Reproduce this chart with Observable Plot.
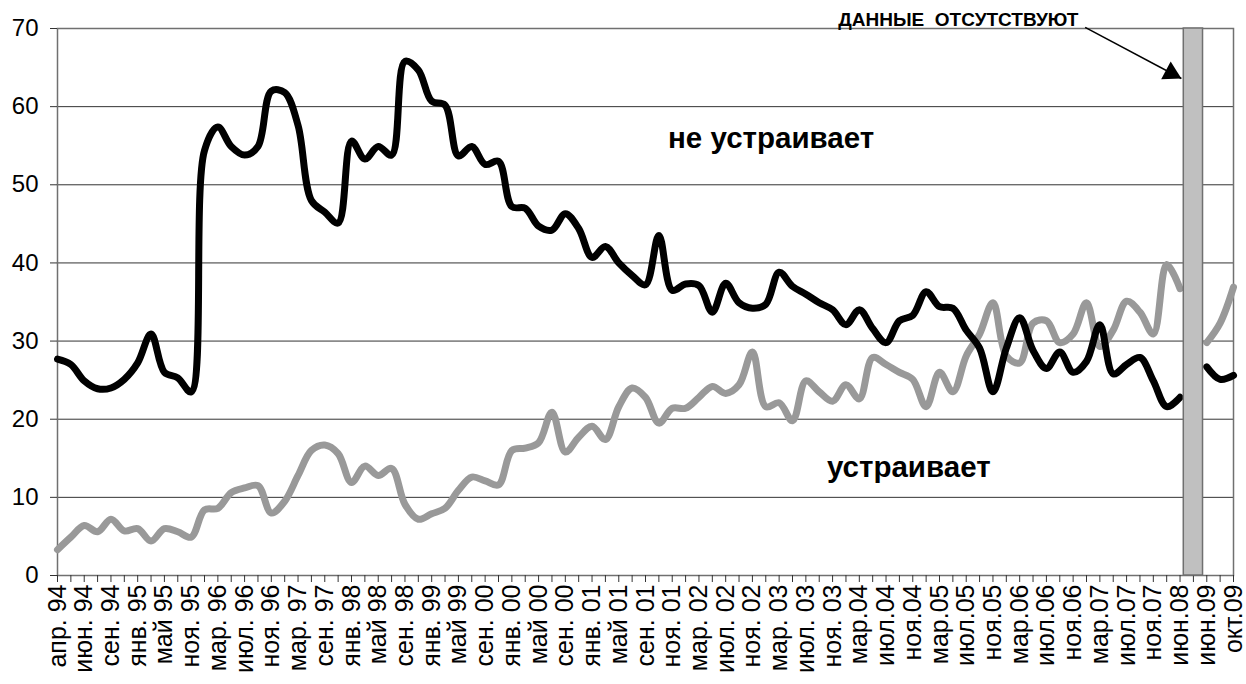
<!DOCTYPE html>
<html><head><meta charset="utf-8">
<script src="https://cdn.jsdelivr.net/npm/d3@7"></script>
<script src="https://cdn.jsdelivr.net/npm/@observablehq/plot@0.6"></script>
<style>body{margin:0;background:#fff;} svg{display:block;}</style>
</head><body><div id="chart"></div>
<script>
const tickLabels = ["апр. 94","июн. 94","сен. 94","янв. 95","май 95","ноя. 95","мар. 96","июл. 96","ноя. 96","мар. 97","сен. 97","янв. 98","май 98","сен. 98","янв. 99","май 99","сен. 00","янв. 00","май 00","сен. 00","янв. 01","май 01","сен. 01","ноя. 01","мар. 02","июл. 02","ноя. 02","мар. 03","июл. 03","ноя. 03","мар.04","июл.04","ноя.04","мар.05","июл.05","ноя.05","мар.06","июл.06","ноя.06","мар.07","июл.07","ноя.07","июн.08","июн.09","окт.09"];

const notSatisfied = [27.7,27.0,24.9,23.9,24.0,25.1,27.2,30.9,26.0,25.3,23.5,54.4,57.4,54.9,53.8,54.9,62.0,61.8,57.6,48.0,46.5,45.1,55.6,53.3,54.9,53.8,65.8,64.7,60.7,60.2,53.7,54.9,52.6,53.0,47.2,47.0,44.7,44.2,46.3,44.4,40.7,42.1,40.0,38.4,37.2,43.5,36.5,37.3,37.1,33.7,37.4,34.9,34.2,34.7,38.8,37.0,36.0,34.9,34.0,32.1,34.0,31.6,29.8,32.6,33.3,36.3,34.4,34.2,31.4,29.1,23.5,29.1,33.0,28.8,26.5,28.6,26.0,27.4,32.1,25.8,27.0,27.9,24.9,21.6,22.8,null,26.7,25.1,25.6];

const satisfied = [3.3,4.9,6.4,5.6,7.2,5.7,6.0,4.4,6.0,5.6,4.9,8.4,8.6,10.6,11.2,11.5,8.0,9.5,12.8,16.0,16.7,15.6,11.9,14.0,12.8,13.7,9.1,7.2,7.9,8.6,10.9,12.6,12.1,11.6,16.0,16.3,17.0,20.9,15.8,17.7,19.1,17.4,21.6,24.0,22.8,19.5,21.4,21.4,22.8,24.2,23.3,24.4,28.6,21.6,22.1,19.8,24.9,23.5,22.3,24.4,22.6,27.9,27.0,26.0,25.1,21.6,26.0,23.5,28.1,30.9,34.9,28.1,27.2,32.3,32.6,29.8,30.9,34.9,29.3,31.4,35.1,33.7,30.9,39.8,36.7,null,29.8,32.3,36.9];

const yTicks = [0,10,20,30,40,50,60,70];
const gapCategories = [85];
const gapValues = [70];

const seriesNames = ["не устраивает", "устраивает"];
const seriesLabelX = [53.4, 63.7];
const seriesLabelY = [55.9, 13.8];

const noteText = "ДАННЫЕ  ОТСУТСТВУЮТ";
const noteX = 76.4, noteY = 71.1;
const arrowFromX = 76.9, arrowFromY = 70.15;
const arrowToX = 84.1, arrowToY = 63.6;

const W = 1246, H = 684, ML = 57, MR = 13, MT = 28, MB = 109;
const n = notSatisfied.length;
const rows = d3.range(n).map(i => ({i, a: notSatisfied[i], b: satisfied[i]}));
const gap = gapCategories.map((c, k) => ({i: c, v: gapValues[k]}));

const font = "'Liberation Sans', Arial, sans-serif";

// arrow head orientation computed from scales
const sx = d3.scaleLinear([0, n - 1], [ML, W - MR]);
const sy = d3.scaleLinear([0, 70], [H - MB, MT]);
const ddx = sx(arrowToX) - sx(arrowFromX), ddy = sy(arrowToY) - sy(arrowFromY);
const len = Math.hypot(ddx, ddy), ux = ddx / len, uy = ddy / len;
const angle = Math.atan2(ux, -uy) * 180 / Math.PI;
const headR = 7.5;
const headHalf = Math.sqrt(headR * headR * Math.PI / (Math.sqrt(3) * 3));
const tipOff = 2 * headHalf;

const chart = Plot.plot({
  width: W, height: H,
  marginLeft: ML, marginRight: MR, marginTop: MT, marginBottom: MB,
  style: {fontFamily: font, fontSize: "22px", background: "#fff", color: "#000", overflow: "visible"},
  x: {type: "linear", domain: [0, n - 1]},
  y: {domain: [0, 70]},
  marks: [
    Plot.gridY(yTicks, {stroke: "#333", strokeOpacity: 1, strokeWidth: 1}),
    Plot.frame({stroke: "#707070", strokeWidth: 1.5}),
    Plot.axisY(yTicks, {tickSize: 7, tickPadding: 12, fontSize: 24, label: null, stroke: "#333"}),
    Plot.axisX(d3.range(n), {tickSize: 7, tickFormat: () => "", label: null, stroke: "#333"}),
    Plot.axisX(d3.range(0, n, 2), {tickSize: 0, tickPadding: 9, tickRotate: -90, fontSize: 25,
      tickFormat: i => tickLabels[i / 2], label: null}),
    Plot.line(rows, {x: "i", y: "b", stroke: "#999999", strokeWidth: 7, curve: "catmull-rom",
      strokeLinejoin: "round", strokeLinecap: "round"}),
    Plot.line(rows, {x: "i", y: "a", stroke: "#000000", strokeWidth: 7, curve: "catmull-rom",
      strokeLinejoin: "round", strokeLinecap: "round"}),
    Plot.rectY(gap, {x1: d => d.i - 0.72, x2: d => d.i + 0.72, y1: 0, y2: "v",
      fill: "#c0c0c0", stroke: "#707070", strokeWidth: 1.5}),
    Plot.link([0], {x1: () => arrowFromX, y1: () => arrowFromY, x2: () => arrowToX, y2: () => arrowToY,
      stroke: "#000", strokeWidth: 1.5, clip: false}),
    Plot.dot([0], {x: () => arrowToX, y: () => arrowToY, symbol: "triangle", r: headR, rotate: angle,
      fill: "#000", stroke: "none", dx: -ux * tipOff, dy: -uy * tipOff}),
    Plot.text([noteText], {x: () => noteX, y: () => noteY, text: d => d, textAnchor: "end",
      fontWeight: "bold", fontSize: 19, fill: "#000"}),
    Plot.text(seriesNames, {x: (d, k) => seriesLabelX[k], y: (d, k) => seriesLabelY[k], text: d => d,
      fontWeight: "bold", fontSize: 29.5, fill: "#000"})
  ]
});
document.getElementById("chart").appendChild(chart);
</script>
</body></html>
